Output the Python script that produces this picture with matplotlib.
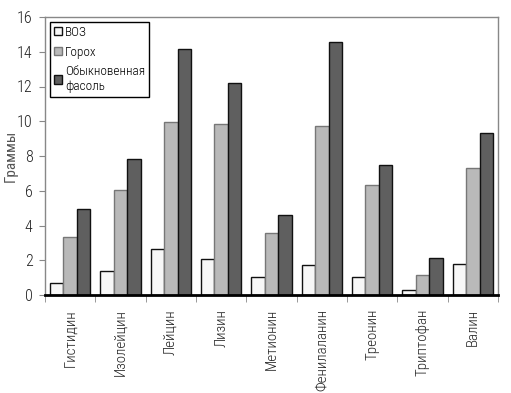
import matplotlib
matplotlib.use("Agg")
import matplotlib.pyplot as plt
from matplotlib import font_manager
import numpy as np

categories = ["Гистидин", "Изолейцин", "Лейцин", "Лизин", "Метионин",
              "Фенилаланин", "Треонин", "Триптофан", "Валин"]
series_names = ["ВОЗ", "Горох", "Обыкновенная\nфасоль"]
voz = [0.7, 1.38, 2.65, 2.05, 1.04, 1.71, 1.04, 0.31, 1.78]
gorokh = [3.32, 6.04, 9.96, 9.82, 3.55, 9.74, 6.32, 1.17, 7.3]
fasol = [4.93, 7.83, 14.14, 12.18, 4.6, 14.58, 7.48, 2.11, 9.3]
yticks = [0, 2, 4, 6, 8, 10, 12, 14, 16]

names = {f.name for f in font_manager.fontManager.ttflist}
fam = []
for cand in ['Liberation Sans Narrow', 'Roboto Condensed', 'Roboto']:
    if cand in names:
        fam.append(cand)
        break
fam.append('DejaVu Sans')
plt.rcParams['font.family'] = fam
plt.rcParams['font.weight'] = 'light'

fig = plt.figure(figsize=(5.11, 3.93), dpi=100)
ax = fig.add_axes([45/511, 1-295/393, (498-45)/511, (295-17)/393])

x = np.arange(len(categories))
w = 0.265
fills = ["#f7f7f7", "#b9b9b9", "#5f5f5f"]
edges = ["#111111", "#777777", "#111111"]
for i, (vals, name) in enumerate(zip([voz, gorokh, fasol], series_names)):
    ax.bar(x + (i - 1) * w, vals, width=w, color=fills[i], edgecolor=edges[i],
           linewidth=1.0, label=name, zorder=3)

ax.set_xlim(-0.5, len(categories) - 0.5)
ax.set_ylim(0, 16)
ax.set_yticks(yticks)
ax.set_yticklabels([str(v) for v in yticks], fontsize=11.5, color="#222222")
ax.set_xticks(x)
ax.set_xticklabels(categories, rotation=90, fontsize=10.8, color="#222222")
ax.tick_params(axis='x', length=0, pad=10)
ax.set_xticks(np.arange(-0.5, len(categories)), minor=True)
ax.tick_params(axis='x', which='minor', length=5, color="#888888", direction='out')
ax.tick_params(axis='y', length=4, color="#888888", direction='out', pad=5)

for s in ['top', 'right', 'left']:
    ax.spines[s].set_color("#888888")
    ax.spines[s].set_linewidth(1.0)
ax.spines['bottom'].set_color("#000000")
ax.spines['bottom'].set_linewidth(2.0)
ax.spines['bottom'].set_zorder(4)

ax.set_ylabel("Граммы", fontsize=11, color="#555555")
ax.yaxis.set_label_coords(-27/453, 0.5)

leg = ax.legend(loc='upper left', bbox_to_anchor=(5/453, 1 - 5/278), fontsize=9.5,
                frameon=True, fancybox=False, framealpha=1, handlelength=0.6, handleheight=0.6,
                handletextpad=0.25, borderpad=0.3, labelspacing=0.5, borderaxespad=0)
leg.get_frame().set_edgecolor("#000000")
leg.get_frame().set_linewidth(1.0)
leg.set_zorder(10)

fig.savefig("out.png", dpi=100)
